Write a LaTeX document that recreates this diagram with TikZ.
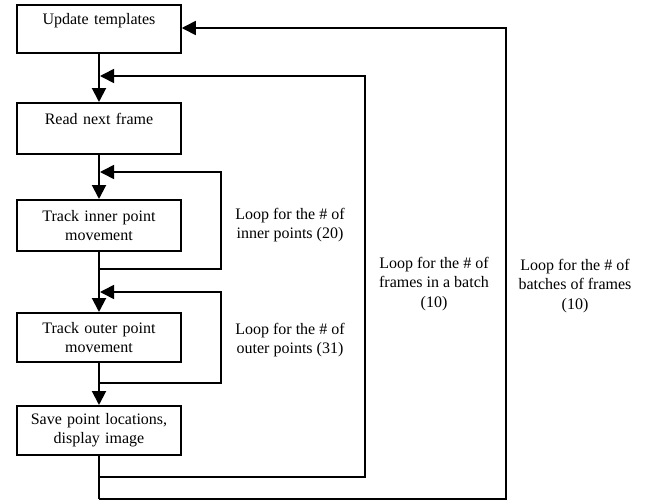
\documentclass[tikz,border=0pt]{standalone}
\usepackage{fontspec}
\setmainfont{Liberation Serif}
\usetikzlibrary{arrows.meta}
\begin{document}
\begin{tikzpicture}[x=1pt,y=-1pt,
  font=\fontsize{16}{19.3}\selectfont,
  stepbox/.style={draw,line width=1.5pt,minimum width=164pt,minimum height=48pt,inner sep=0pt,align=center,anchor=north,text width=160pt},
  mainline/.style={line width=2pt},
  loopline/.style={line width=1.6pt},
  tip/.style={-{Triangle[length=14pt,width=14pt]}},
  looplabel/.style={align=center,inner sep=0pt}
]
\path[use as bounding box] (0,0) rectangle (657,501);
% boxes
\node[stepbox] (upd) at (99,4) {Update templates\\\mbox{}};
\node[stepbox,minimum height=51pt] (read) at (99,102) {Read next frame\\\mbox{}};
\node[stepbox,minimum height=51pt] (inner) at (99,199) {Track inner point\\movement};
\node[stepbox,minimum height=49pt] (outer) at (99,312) {Track outer point\\movement};
\node[stepbox,minimum height=49pt] (save) at (99,405) {Save point locations,\\display image};
% junction coordinates
\coordinate (jf) at (100,76);
\coordinate (ji) at (100,172);
\coordinate (ki) at (99,269);
\coordinate (jo) at (100,292);
\coordinate (ko) at (99,383);
\coordinate (kf) at (99,477);
\coordinate (kb) at (99,499);
% main flow
\draw[mainline,tip] (upd.south) -- (read.north);
\draw[mainline,tip] (read.south) -- (inner.north);
\draw[mainline,tip] (inner.south) -- (outer.north);
\draw[mainline,tip] (outer.south) -- (save.north);
\draw[mainline] (save.south) -- (kb);
% loops
\draw[loopline,tip] (ki) -- (221,269) -- (221,172) -- (ji);
\draw[loopline,tip] (ko) -- (221,383) -- (221,292) -- (jo);
\draw[loopline,tip] (kf) -- (365,477) -- (365,76) -- (jf);
\draw[loopline,tip] (kb) -- (506,499) -- (506,28) -- (upd.east |- 0,28);
% labels
\node[looplabel] (li) at (290,225) {Loop for the \# of\\inner points (20)};
\node[looplabel] (lo) at (290,340) {Loop for the \# of\\outer points (31)};
\node[looplabel] (lf) at (434,284) {Loop for the \# of\\frames in a batch\\(10)};
\node[looplabel] (lb) at (575,286) {Loop for the \# of\\batches of frames\\(10)};
\end{tikzpicture}
\end{document}
